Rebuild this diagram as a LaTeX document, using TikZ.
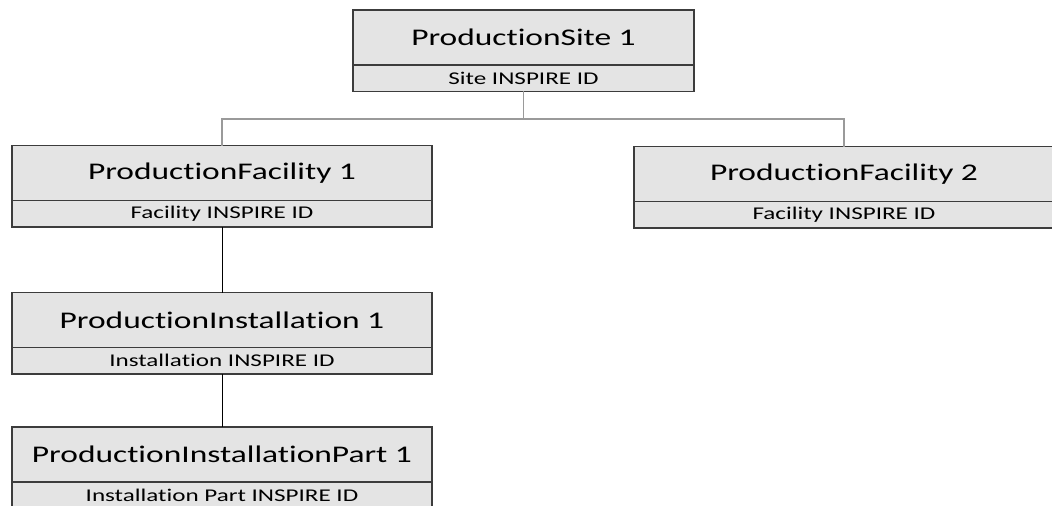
\documentclass[tikz,border=0pt]{standalone}
\usepackage{fontspec}
\setmainfont{Carlito}[FakeStretch=1.4, Ligatures={NoCommon}]
\usetikzlibrary{positioning}
\definecolor{boxfill}{HTML}{E4E4E4}
\definecolor{boxline}{HTML}{3C3C3C}
\definecolor{busline}{HTML}{9A9A9A}
\tikzset{
  head/.style={draw=boxline, fill=boxfill, line width=0.8pt, outer sep=0pt, inner sep=0pt,
    minimum width=#1, minimum height=1.1cm, font=\fontsize{13.6}{16}\selectfont},
  head/.default=8.4cm,
  idbox/.style={draw=boxline, fill=boxfill, line width=0.8pt, outer sep=0pt, inner sep=0pt,
    minimum width=#1, minimum height=0.53cm, font=\fontsize{10.2}{12}\selectfont},
  idbox/.default=8.4cm,
  link/.style={line width=0.5pt, black},
  buslink/.style={line width=0.6pt, busline}
}
\begin{document}
\begin{tikzpicture}[x=0.02cm, y=-0.02cm]
    % Define el marco
    \useasboundingbox (0,0) rectangle (1052,506);

    % Dibuja el sitio
    \node[head=6.82cm] (site) at (523.5,37.5) {ProductionSite 1};
    \node[idbox=6.82cm, below=0pt of site] (siteid) {Site INSPIRE ID};

    % Dibuja las instalaciones de produccion
    \node[head] (fac1) at (222,173) {ProductionFacility 1};
    \node[idbox, below=0pt of fac1] (fac1id) {Facility INSPIRE ID};
    \node[head] (fac2) at (844,174) {ProductionFacility 2};
    \node[idbox, below=0pt of fac2] (fac2id) {Facility INSPIRE ID};

    % Dibuja la instalacion y su parte
    \node[head] (inst) at (222,320) {ProductionInstallation 1};
    \node[idbox, below=0pt of inst] (instid) {Installation INSPIRE ID};
    \node[head] (part) at (222,454.5) {ProductionInstallationPart 1};
    \node[idbox, below=0pt of part] (partid) {Installation Part INSPIRE ID};

    % Dibuja las lineas
    \coordinate (bus) at (523.5,119);
    \draw[buslink] (siteid.south) -- (bus);
    \draw[buslink] (fac1.north) |- (bus) -| (fac2.north);
    \draw[link] (fac1id.south) -- (inst.north);
    \draw[link] (instid.south) -- (part.north);
\end{tikzpicture}
\end{document}
